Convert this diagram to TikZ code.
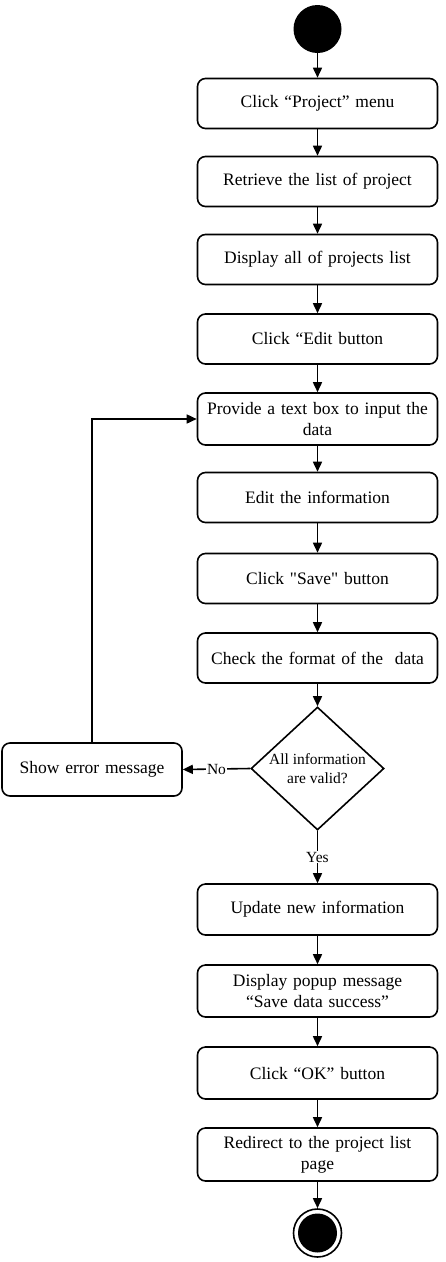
\documentclass[tikz,border=0pt]{standalone}
\usepackage{fontspec}
\setmainfont{Liberation Serif}
\newfontfamily\rawserif{Liberation Serif}
\usetikzlibrary{arrows.meta,shapes.geometric}
\begin{document}
\begin{tikzpicture}[x=1pt,y=-1pt,
  act/.style={draw, line width=1.6pt, rounded corners=8pt, minimum width=240pt, minimum height=50pt,
    text width=234pt, align=center, inner sep=2pt, font=\rawserif\fontsize{17.5}{21}\selectfont},
  arr/.style={line width=1.6pt, -{Triangle[length=10pt,width=9pt]}},
  lbl/.style={fill=white, inner sep=1pt, font=\fontsize{15.5}{18}\selectfont}]
\useasboundingbox (0,0) rectangle (446,1262);
\node[circle, fill=black, minimum size=48pt, inner sep=0pt] (start) at (317.5,29) {};
\node[act] (b1) at (317.5,103.5) {Click “Project” menu};
\node[act] (b2) at (317.5,181.5) {Retrieve the list of project};
\node[act] (b3) at (317.5,259.5) {Display all of projects list};
\node[act] (b4) at (317.5,339) {Click “Edit button};
\node[act, minimum height=52pt] (b5) at (317.5,419) {Provide a text box to input the\\data};
\node[act] (b6) at (317.5,497.5) {Edit the information};
\node[act] (b7) at (317.5,578.5) {Click "Save" button};
\node[act] (b8) at (317.5,658) {Check the format of the\ \ data};
\node[diamond, draw, line width=1.6pt, minimum width=133pt, minimum height=123pt, inner sep=0pt,
  label={[align=center, font=\fontsize{15.5}{19}\selectfont]center:All information\\are valid?}] (dec) at (317.5,768.5) {};
\node[act, minimum width=180pt, text width=174pt, minimum height=53pt] (err) at (92,769.5) {Show error message};
\node[act, minimum height=51pt] (b9) at (317.5,909.5) {Update new information};
\node[act, minimum height=52pt] (b10) at (317.5,991) {Display popup message\\“Save data success”};
\node[act, minimum height=52pt] (b11) at (317.5,1073) {Click “OK” button};
\node[act, minimum height=53pt] (b12) at (317.5,1154.5) {Redirect to the project list\\page};
\node[circle, draw, line width=1.6pt, minimum size=48pt, inner sep=0pt,
  path picture={\fill[black] (path picture bounding box.center) circle (19.5pt);}] (end) at (317.5,1233) {};
\draw[arr] (start) -- (b1);
\draw[arr] (b1) -- (b2);
\draw[arr] (b2) -- (b3);
\draw[arr] (b3) -- (b4);
\draw[arr] (b4) -- (b5);
\draw[arr] (b5) -- (b6);
\draw[arr] (b6) -- (b7);
\draw[arr] (b7) -- (b8);
\draw[arr] (b8) -- (dec);
\draw[arr] (dec.west) -- node[lbl]{No} (err.east);
\draw[arr] (err.north) |- (b5.west);
\draw[arr] (dec.south) -- node[lbl]{Yes} (b9.north);
\draw[arr] (b9) -- (b10);
\draw[arr] (b10) -- (b11);
\draw[arr] (b11) -- (b12);
\draw[arr] (b12) -- (end);
\end{tikzpicture}
\end{document}
